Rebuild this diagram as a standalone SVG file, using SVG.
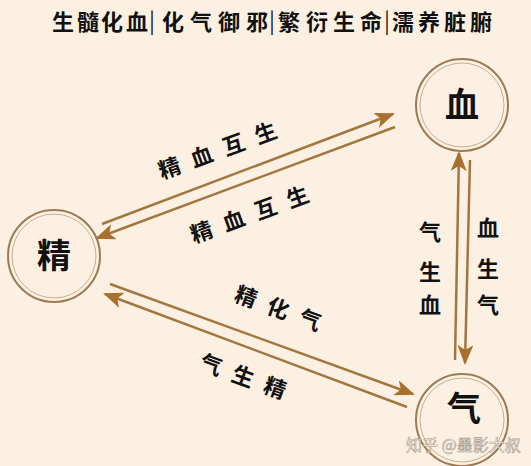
<svg xmlns="http://www.w3.org/2000/svg" width="531" height="466" viewBox="0 0 531 466">
<defs>
<style>
.t{font-family:"Noto Sans CJK SC","Noto Sans CJK JP",sans-serif;font-weight:700;fill:#111;}
.title{font-size:22px;}
.bar{font-family:"Noto Sans CJK SC",sans-serif;font-weight:400;font-size:22px;fill:#222;}
.lbl{font-size:22px;letter-spacing:12px;}
.vl{font-size:22px;}
.node{font-size:34px;}
.ring{fill:none;stroke:#9c7a55;stroke-width:2;}
.ring2{fill:none;stroke:#b89c7c;stroke-width:0.8;}
.ln{stroke:#a3763f;stroke-width:2.5;fill:none;}
.wm{font-family:"Noto Sans CJK SC",sans-serif;font-size:16px;fill:#ffffff;fill-opacity:0.75;stroke:#a89a8c;stroke-width:0.6;}
</style>
<marker id="ah" viewBox="0 -8 20 16" markerWidth="20" markerHeight="16" refX="18" refY="0" orient="auto" markerUnits="userSpaceOnUse">
<path d="M0,-8 L20,0 L0,8 L5,0 z" fill="#a8702c"/>
</marker>
</defs>
<rect width="531" height="466" fill="#fcf0e2"/>
<g id="title">
<text class="t title" x="52 77 101 126" y="30">生髓化血</text>
<text class="bar" x="152" y="29" text-anchor="middle">|</text>
<text class="t title" x="162 190 218 246" y="30">化气御邪</text>
<text class="bar" x="272" y="29" text-anchor="middle">|</text>
<text class="t title" x="278 306 333 360" y="30">繁衍生命</text>
<text class="bar" x="387" y="29" text-anchor="middle">|</text>
<text class="t title" x="392 418 444 470" y="30">濡养脏腑</text>
</g>
<g id="connectors">
<path class="ln" d="M102,224 L393,114" marker-end="url(#ah)"/>
<path class="ln" d="M395,127 L97,238" marker-end="url(#ah)"/>
<path class="ln" d="M110,284 L413,394" marker-end="url(#ah)"/>
<path class="ln" d="M407,407 L105,294" marker-end="url(#ah)"/>
<path class="ln" d="M455,360 L459,153" marker-end="url(#ah)"/>
<path class="ln" d="M470,160 L465,363" marker-end="url(#ah)"/>
</g>
<g id="node-xue">
<circle class="ring" cx="462" cy="105" r="46"/>
<circle class="ring2" cx="462" cy="105" r="42"/>
<text class="t node" x="462" y="117" text-anchor="middle">血</text>
</g>
<g id="node-jing">
<circle class="ring" cx="54" cy="256" r="46"/>
<circle class="ring2" cx="54" cy="256" r="42"/>
<text class="t node" x="54" y="268" text-anchor="middle">精</text>
</g>
<g id="node-qi">
<circle class="ring" cx="462" cy="420" r="46"/>
<circle class="ring2" cx="462" cy="420" r="42"/>
<text class="t node" x="464" y="421" text-anchor="middle">气</text>
</g>
<g id="labels" class="t">
<text class="lbl" transform="translate(226,156) rotate(-20)" text-anchor="middle">精血互生</text>
<text class="lbl" transform="translate(258,220) rotate(-20)" text-anchor="middle">精血互生</text>
<text class="lbl" transform="translate(281,318) rotate(20)" text-anchor="middle">精化气</text>
<text class="lbl" transform="translate(246,386) rotate(20)" text-anchor="middle">气生精</text>
<text class="vl" x="430" y="240" text-anchor="middle">气</text>
<text class="vl" x="430" y="280" text-anchor="middle">生</text>
<text class="vl" x="430" y="313" text-anchor="middle">血</text>
<text class="vl" x="488" y="236" text-anchor="middle">血</text>
<text class="vl" x="488" y="277" text-anchor="middle">生</text>
<text class="vl" x="488" y="313" text-anchor="middle">气</text>
</g>
<text class="wm" x="406" y="451">知乎 @墨影大叔</text>
</svg>
